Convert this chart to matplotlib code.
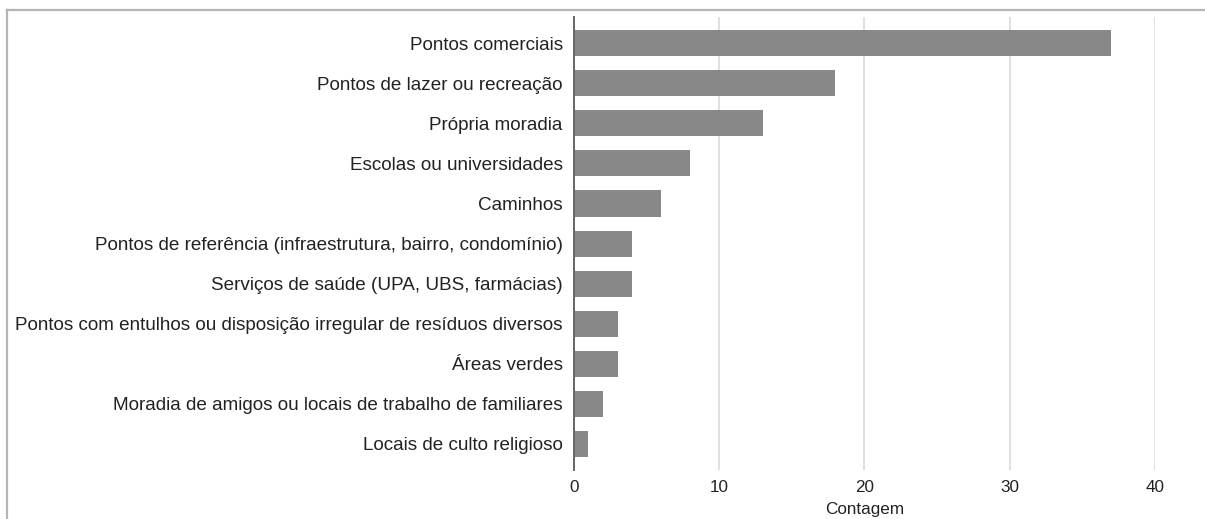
import matplotlib.pyplot as plt
from matplotlib.lines import Line2D

plt.rcParams['font.family'] = ['Liberation Sans', 'DejaVu Sans']

categorias = [
    'Pontos comerciais',
    'Pontos de lazer ou recreação',
    'Própria moradia',
    'Escolas ou universidades',
    'Caminhos',
    'Pontos de referência (infraestrutura, bairro, condomínio)',
    'Serviços de saúde (UPA, UBS, farmácias)',
    'Pontos com entulhos ou disposição irregular de resíduos diversos',
    'Áreas verdes',
    'Moradia de amigos ou locais de trabalho de familiares',
    'Locais de culto religioso',
]
contagem = [37, 18, 13, 8, 6, 4, 4, 3, 3, 2, 1]
xticks = [0, 10, 20, 30, 40]

fig = plt.figure(figsize=(12.05, 5.19), dpi=100)
ax = fig.add_axes([0.4763, 0.0944, 0.4822, 0.8726])

pos = list(range(len(categorias)))
ax.barh(pos, contagem, height=0.65, color='#888888', zorder=3)

ax.set_ylim(len(categorias) - 0.35, -0.65)
ax.set_xlim(0, 40)
ax.set_yticks(pos)
ax.set_yticklabels(categorias, fontsize=13.6, color='#222222')
ax.set_xticks(xticks)
ax.set_xticklabels([str(t) for t in xticks], fontsize=12.3, color='#222222')
ax.tick_params(axis='both', length=0)
ax.tick_params(axis='y', pad=8)
ax.tick_params(axis='x', pad=7)

ax.grid(axis='x', color='#dddddd', linewidth=1.3, zorder=0)
for s in ['top', 'right', 'bottom']:
    ax.spines[s].set_visible(False)
ax.spines['left'].set_color('#666666')
ax.spines['left'].set_linewidth(1.4)
ax.spines['left'].set_zorder(4)

ax.set_xlabel('Contagem', fontsize=12.3, color='#222222', labelpad=5)

# moldura cortada da captura (topo e esquerda)
fig.add_artist(Line2D([0.0058, 1.0], [0.980, 0.980], transform=fig.transFigure,
                      color='#b4b4b4', linewidth=1.6))
fig.add_artist(Line2D([0.0058, 0.0058], [0.0, 0.980], transform=fig.transFigure,
                      color='#b4b4b4', linewidth=1.6))

plt.savefig('out.png', dpi=100)
